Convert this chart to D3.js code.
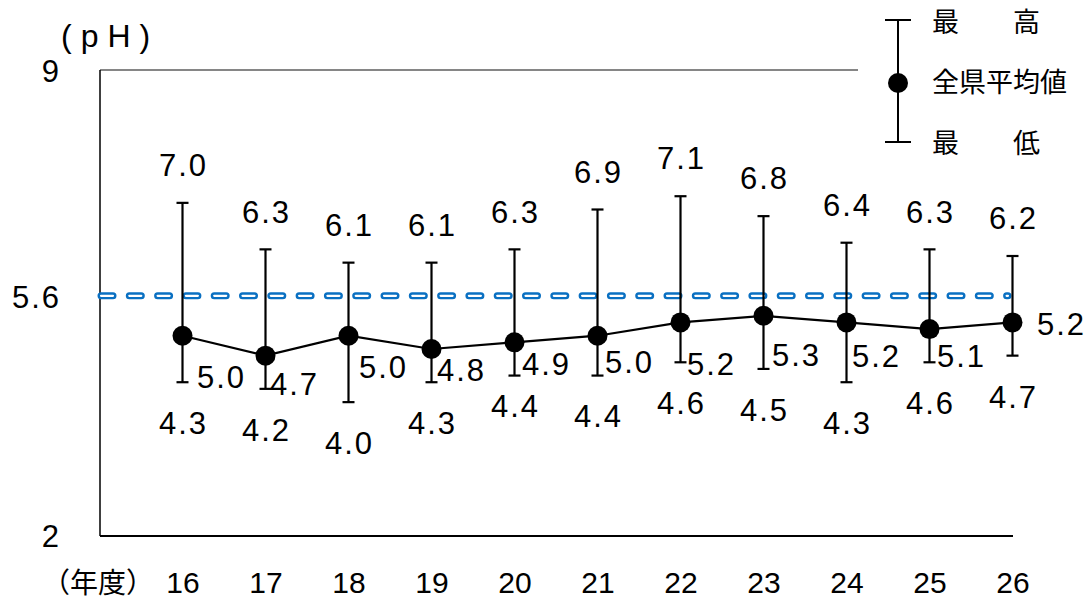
<!DOCTYPE html>
<html>
<head>
<meta charset="utf-8">
<script src="https://cdn.jsdelivr.net/npm/d3@7"></script>
<style>
  html, body { margin: 0; padding: 0; background: #fff; }
  svg { display: block; }
  .num { font-family: "Liberation Sans", Arial, sans-serif; font-size: 31px; fill: #000; }
  .jp { font-family: "Noto Sans CJK JP", "Noto Sans CJK SC", sans-serif; fill: #000; }
</style>
</head>
<body>
<svg id="chart" width="1090" height="601"></svg>
<script>
// Fiscal years (Heisei)
const years = [16, 17, 18, 19, 20, 21, 22, 23, 24, 25, 26];
// Prefecture-wide mean pH of rainfall
const meanPH = [5.0, 4.7, 5.0, 4.8, 4.9, 5.0, 5.2, 5.3, 5.2, 5.1, 5.2];
// Highest and lowest pH observed each year
const maxPH = [7.0, 6.3, 6.1, 6.1, 6.3, 6.9, 7.1, 6.8, 6.4, 6.3, 6.2];
const minPH = [4.3, 4.2, 4.0, 4.3, 4.4, 4.4, 4.6, 4.5, 4.3, 4.6, 4.7];
// Y axis ticks and the reference level
const yTicks = [2, 5.6, 9];
const refPH = 5.6;

// Label nudges (pixels) so the mean labels stay clear of the bars
const meanLabelShift = [[38, 41], [28, 28], [34, 31], [29, 21], [31, 21], [31, 26],
                        [30, 41], [32, 39], [29, 33], [31, 27], [48, 1]];
const minLabelGap = [41, 41, 41, 41, 30, 40, 41, 41, 41, 41, 41];
const maxLabelGap = 38;

const svg = d3.select("#chart");
const plotL = 100, plotR = 1013, plotT = 70, plotB = 535;

const x = d3.scaleLinear().domain([-1, years.length - 1]).range([plotL, plotR]);
const xp = i => x(i) - 0.5;
const y = d3.scaleLinear().domain([2, 9]).range([plotB, plotT]);

// Frame: grey top rule, black left and bottom axes
svg.append("line").attr("x1", plotL).attr("x2", 858).attr("y1", plotT).attr("y2", plotT)
  .attr("stroke", "#868686").attr("stroke-width", 2);
svg.append("line").attr("x1", plotL).attr("x2", plotL).attr("y1", plotT).attr("y2", plotB + 1)
  .attr("stroke", "#000").attr("stroke-width", 1.5);
svg.append("line").attr("x1", plotL).attr("x2", plotR).attr("y1", plotB + 1).attr("y2", plotB + 1)
  .attr("stroke", "#000").attr("stroke-width", 2);

// Y axis labels
const yAxis = d3.axisLeft(y).tickValues(yTicks).tickSize(0).tickPadding(0)
  .tickFormat(d => d === 5.6 ? "5.6" : String(d));
const gy = svg.append("g").attr("transform", "translate(59,0)").call(yAxis);
gy.select(".domain").remove();
gy.selectAll("text").attr("class", "num").attr("font-size", null).attr("font-family", null)
  .style("letter-spacing", "2px").attr("dy", "0.36em").attr("dx", "2");

// Unit label
svg.append("text").attr("class", "num").attr("x", 61).attr("y", 36).attr("dy", "0.35em")
  .attr("font-size", 32).style("font-size", "32px")
  .style("letter-spacing", "9px").text("(pH)");

// X axis labels
const xAxis = d3.axisBottom(x).tickValues(d3.range(years.length)).tickSize(0)
  .tickFormat(i => years[i]);
const gx = svg.append("g").call(xAxis);
gx.select(".domain").remove();
gx.attr("transform", "translate(-0.5,582)");
gx.selectAll("text").attr("class", "num").attr("font-size", null).attr("font-family", null)
  .style("font-size", "30px").attr("y", 0).attr("dy", "0.36em");
svg.append("text").attr("class", "jp").attr("x", 42).attr("y", 583).attr("dy", "0.36em")
  .attr("font-size", 28).text("（年度）");

// Reference level: hollow blue dashes
const refG = svg.append("g");
refG.append("line").attr("x1", 101).attr("x2", 1008).attr("y1", y(refPH)).attr("y2", y(refPH))
  .attr("stroke", "#0a70c2").attr("stroke-width", 7).attr("stroke-linecap", "round")
  .attr("stroke-dasharray", "12 16.3");
refG.append("line").attr("x1", 101).attr("x2", 1008).attr("y1", y(refPH)).attr("y2", y(refPH))
  .attr("stroke", "#fff").attr("stroke-width", 2.2).attr("stroke-linecap", "round")
  .attr("stroke-dasharray", "12 16.3");

// Range bars
const bars = svg.append("g").attr("stroke", "#000").attr("stroke-width", 2.2);
years.forEach((yr, i) => {
  const cx = xp(i);
  bars.append("line").attr("x1", cx).attr("x2", cx).attr("y1", y(maxPH[i])).attr("y2", y(minPH[i]));
  bars.append("line").attr("x1", cx - 6).attr("x2", cx + 6).attr("y1", y(maxPH[i])).attr("y2", y(maxPH[i]));
  bars.append("line").attr("x1", cx - 6).attr("x2", cx + 6).attr("y1", y(minPH[i])).attr("y2", y(minPH[i]));
});

// Mean line and markers
const line = d3.line().x((d, i) => xp(i)).y(d => y(d));
svg.append("path").datum(meanPH).attr("d", line).attr("fill", "none")
  .attr("stroke", "#000").attr("stroke-width", 2.2);
svg.append("g").selectAll("circle").data(meanPH).join("circle")
  .attr("cx", (d, i) => xp(i)).attr("cy", d => y(d)).attr("r", 10).attr("fill", "#000");

// Value labels
const fmt = d3.format(".1f");
const labels = svg.append("g").attr("text-anchor", "middle");
years.forEach((yr, i) => {
  const cx = xp(i) + 1;
  labels.append("text").attr("class", "num").style("letter-spacing", "2px")
    .attr("x", cx).attr("y", y(maxPH[i]) - maxLabelGap).attr("dy", "0.36em").text(fmt(maxPH[i]));
  labels.append("text").attr("class", "num").style("letter-spacing", "2px")
    .attr("x", cx).attr("y", y(minPH[i]) + minLabelGap[i]).attr("dy", "0.36em").text(fmt(minPH[i]));
  labels.append("text").attr("class", "num").style("letter-spacing", "2px")
    .attr("x", cx + meanLabelShift[i][0]).attr("y", y(meanPH[i]) + meanLabelShift[i][1])
    .attr("dy", "0.36em").text(fmt(meanPH[i]));
});

// Legend
const lg = svg.append("g");
const lx = 898;
lg.append("line").attr("x1", lx).attr("x2", lx).attr("y1", 20).attr("y2", 142)
  .attr("stroke", "#000").attr("stroke-width", 2);
lg.append("line").attr("x1", lx - 13).attr("x2", lx + 13).attr("y1", 20).attr("y2", 20)
  .attr("stroke", "#000").attr("stroke-width", 2);
lg.append("line").attr("x1", lx - 13).attr("x2", lx + 13).attr("y1", 142).attr("y2", 142)
  .attr("stroke", "#000").attr("stroke-width", 2);
lg.append("circle").attr("cx", lx).attr("cy", 83).attr("r", 10).attr("fill", "#000");
const legendItems = [["最　　高", 22], ["全県平均値", 82], ["最　　低", 143]];
legendItems.forEach(([t, ty]) => {
  lg.append("text").attr("class", "jp").attr("font-size", 27).attr("x", 932).attr("y", ty)
    .attr("dy", "0.36em").text(t);
});
</script>
</body>
</html>
